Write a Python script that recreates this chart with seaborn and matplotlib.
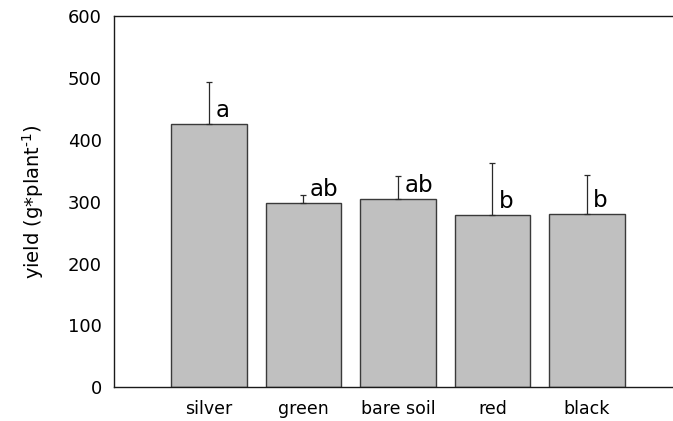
import matplotlib
matplotlib.use("Agg")
import matplotlib.pyplot as plt
import seaborn as sns
import pandas as pd

categories = ["silver", "green", "bare soil", "red", "black"]
yield_mean = [426, 298, 304, 279, 280]
yield_err = [68, 13, 37, 83, 63]
letters = ["a", "ab", "ab", "b", "b"]
yticks = [0, 100, 200, 300, 400, 500, 600]

sns.set_theme(style="white")
plt.rcParams["font.family"] = ["DejaVu Sans"]
plt.rcParams["mathtext.default"] = "regular"

df = pd.DataFrame({"treatment": categories, "yield": yield_mean})

fig = plt.figure(figsize=(6.73, 4.21), dpi=100)
ax = fig.add_axes([114.4 / 673, 33.7 / 421, 6 * 94.5 / 673, (387.3 - 16) / 421])

sns.barplot(data=df, x="treatment", y="yield", color="#c0c0c0", saturation=1,
            edgecolor="#3a3a3a", linewidth=1.0, width=0.8, errorbar=None, ax=ax)

xs = list(range(len(categories)))
ax.errorbar(xs, yield_mean, yerr=[[0] * len(yield_err), yield_err], fmt="none",
            ecolor="#2a2a2a", elinewidth=0.9, capsize=2.5, capthick=0.9, zorder=1)

for x, m, lab in zip(xs, yield_mean, letters):
    ax.annotate(lab, (x, m), xytext=(4.5, 5), textcoords="offset points",
                ha="left", va="baseline", fontsize=16.5, color="black")

ax.set_xlim(-1, 5)
ax.set_ylim(0, 600)
ax.set_yticks(yticks)
ax.set_yticklabels([str(t) for t in yticks])
ax.tick_params(axis="both", length=0, labelsize=13, colors="black")
ax.tick_params(axis="y", pad=9)
ax.tick_params(axis="x", pad=9, labelsize=12.5)
ax.set_xlabel("")
ax.set_ylabel(r"yield (g*plant$^{\text{-1}}$)", fontsize=14, labelpad=16, color="black")

for s in ["top", "left", "bottom"]:
    ax.spines[s].set_visible(True)
    ax.spines[s].set_color("#1a1a1a")
    ax.spines[s].set_linewidth(1.0)
ax.spines["right"].set_visible(False)

fig.savefig("out.png", dpi=100)
